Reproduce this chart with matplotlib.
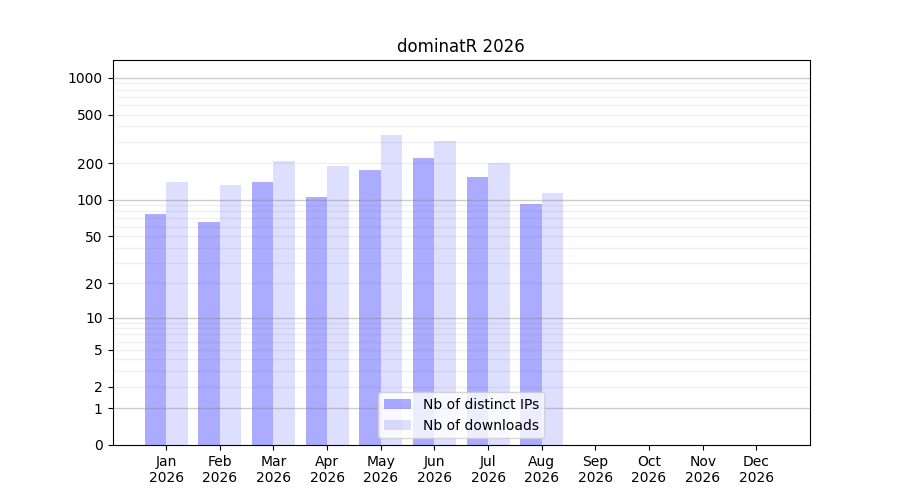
import numpy as np
import matplotlib
matplotlib.use("Agg")
import matplotlib.pyplot as plt

# monthly figures
months = ["Jan", "Feb", "Mar", "Apr", "May", "Jun",
          "Jul", "Aug", "Sep", "Oct", "Nov", "Dec"]
year = "2026"
distinct_ips = [76, 65, 140, 106, 176, 221, 154, 92, 0, 0, 0, 0]
downloads = [140, 133, 209, 190, 342, 305, 201, 114, 0, 0, 0, 0]

major_ticks = [0, 1, 2, 5, 10, 20, 50, 100, 200, 500, 1000]
decade_lines = [1, 10, 100, 1000]
minor_lines = [k * d for d in (1, 10, 100) for k in range(2, 10)]


# log(1 + x) scale so that zero months still show
def fwd(v):
    return np.log10(1 + np.clip(v, 0, None))


def inv(v):
    return 10 ** v - 1


fig, ax = plt.subplots(figsize=(9, 5), dpi=100)
ax.set_yscale("function", functions=(fwd, inv))

x = np.arange(len(months))
ax.bar(x - 0.2, distinct_ips, width=0.4, color="blue", alpha=0.33,
       label="Nb of distinct IPs")
ax.bar(x + 0.2, downloads, width=0.4, color="blue", alpha=0.13,
       label="Nb of downloads")

for v in minor_lines:
    ax.axhline(v, color="grey", alpha=0.12, linewidth=1, zorder=3)
for v in decade_lines:
    ax.axhline(v, color="grey", alpha=0.4, linewidth=1, zorder=3)

ax.set_yticks(major_ticks)
ax.set_yticklabels([str(t) for t in major_ticks])
ax.minorticks_off()
ax.set_ylim(0, 1400)
ax.set_xlim(-1, 12)
ax.set_xticks(x)
ax.set_xticklabels([m + "\n" + year for m in months])

ax.set_title("dominatR 2026")
ax.legend(loc="lower center")

fig.savefig("out.png")
